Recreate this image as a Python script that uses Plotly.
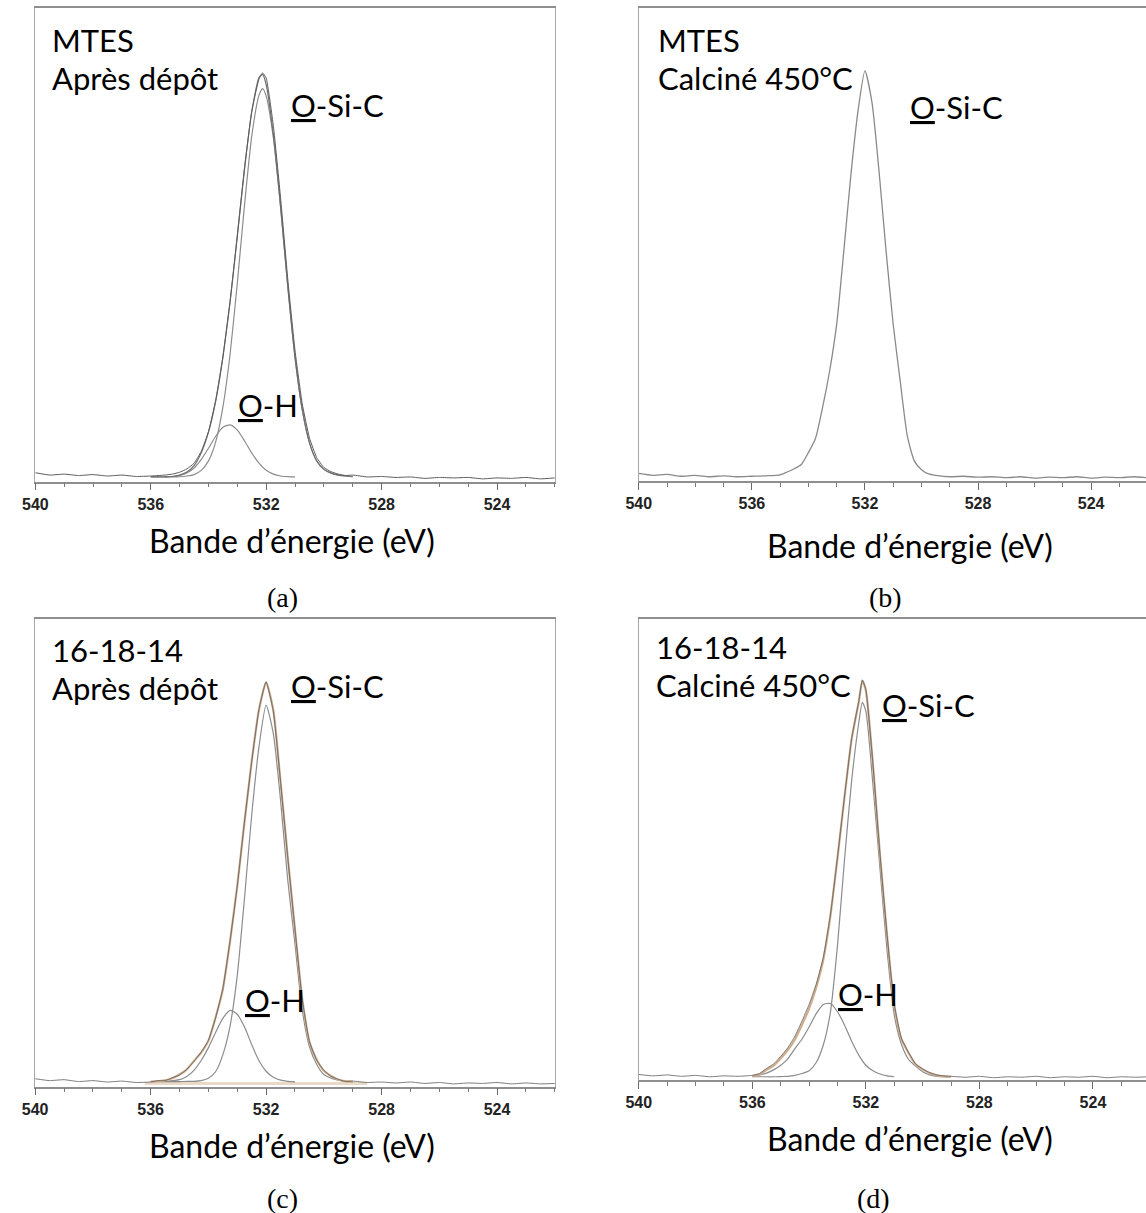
import plotly.graph_objects as go

W, H = 1146, 1213

# ---------------- data (binding energy in eV, intensity in % of frame height) -------------
A_X_FIT = [536.0, 535.75, 535.5, 535.25, 535.0, 534.75, 534.5, 534.25, 534.0, 533.75, 533.5, 533.25,
           533.0, 532.75, 532.5, 532.25, 532.125, 532.0, 531.75, 531.5, 531.25, 531.0, 530.75, 530.5,
           530.25, 530.0, 529.75, 529.5, 529.25, 529.0]
A_OSIC = [1.0, 1.0, 1.0, 1.0, 1.05, 1.2, 1.5, 2.4, 4.4, 8.4, 15.8, 27.0, 42.0, 58.5, 73.0, 81.6, 83.0,
          81.4, 72.5, 57.8, 41.0, 26.2, 15.2, 8.2, 4.4, 2.6, 1.8, 1.4, 1.2, 1.05]
A_ENV = [1.0, 1.0, 1.0, 1.1, 1.4, 2.05, 3.4, 6.1, 10.45, 17.0, 26.3, 38.0, 51.9, 66.1, 78.05, 85.3, 86.0,
         83.8, 73.1, 58.0, 41.1, 26.2, 15.2, 8.2, 4.4, 2.6, 1.8, 1.4, 1.2, 1.05]
A_X_OH = [535.5, 535.25, 535.0, 534.75, 534.5, 534.25, 534.0, 533.75, 533.5, 533.25, 533.0, 532.75,
          532.5, 532.25, 532.0, 531.75, 531.5, 531.25, 531.0]
A_OH = [1.0, 1.1, 1.35, 1.85, 2.9, 4.7, 7.05, 9.6, 11.5, 12.0, 10.9, 8.6, 6.05, 3.9, 2.4, 1.6, 1.2, 1.07, 1.0]
A_X_DATA = [540.0, 539.5, 539.0, 538.5, 538.0, 537.5, 537.0, 536.5, 536.0, 535.75, 535.5, 535.25, 535.0,
            534.75, 534.5, 534.25, 534.0, 533.75, 533.5, 533.25, 533.0, 532.75, 532.5, 532.25, 532.125,
            532.0, 531.75, 531.5, 531.25, 531.0, 530.75, 530.5, 530.25, 530.0, 529.75, 529.5, 529.25,
            529.0, 528.5, 528.0, 527.5, 527.0, 526.5, 526.0, 525.5, 525.0, 524.5, 524.0, 523.5, 523.0,
            522.5, 522.0]
A_DATA = [1.9, 1.4, 1.6, 1.3, 1.5, 1.2, 1.4, 1.1, 1.2, 1.3, 1.4, 1.6, 2.0, 2.7, 3.9, 6.4, 10.6, 17.2,
          26.4, 38.2, 52.0, 66.3, 78.3, 85.0, 86.3, 85.2, 75.0, 59.8, 42.6, 27.6, 16.4, 9.2, 5.1, 3.0,
          2.1, 1.6, 1.3, 1.4, 1.0, 1.1, 0.9, 1.0, 0.7, 0.9, 0.8, 0.9, 0.6, 0.8, 0.7, 0.9, 0.6, 0.8]

B_X = [540.0, 539.5, 539.0, 538.5, 538.0, 537.5, 537.0, 536.5, 536.0, 535.5, 535.0, 534.75, 534.5,
       534.25, 534.0, 533.75, 533.5, 533.25, 533.0, 532.75, 532.5, 532.25, 532.0, 531.75, 531.5, 531.25,
       531.0, 530.75, 530.5, 530.25, 530.0, 529.75, 529.5, 529.0, 528.5, 528.0, 527.5, 527.0, 526.5,
       526.0, 525.5, 525.0, 524.5, 524.0, 523.5, 523.0, 522.5, 522.0]
B_Y = [1.6, 1.2, 1.4, 1.0, 1.2, 0.9, 1.1, 0.9, 1.0, 1.1, 1.3, 1.9, 2.6, 3.5, 6.0, 9.0, 15.5, 23.2, 33.1,
       48.4, 64.5, 78.0, 86.7, 80.0, 65.4, 48.5, 33.1, 21.0, 9.5, 4.2, 2.4, 1.5, 1.2, 0.9, 1.0, 0.8, 0.9,
       0.7, 0.9, 0.6, 0.8, 0.7, 0.9, 0.6, 0.8, 0.7, 0.9, 0.7]

C_X_FIT = [536.0, 535.75, 535.5, 535.25, 535.0, 534.75, 534.5, 534.25, 534.0, 533.75, 533.5, 533.25,
           533.0, 532.75, 532.5, 532.25, 532.0, 531.75, 531.5, 531.25, 531.0, 530.75, 530.5, 530.25,
           530.0, 529.75, 529.5, 529.25, 529.0]
C_ENV = [1.1, 1.2, 1.35, 1.8, 2.6, 3.65, 5.5, 7.3, 9.8, 14.8, 20.8, 31.0, 42.9, 56.5, 69.5, 80.5, 86.4,
         80.5, 65.2, 49.1, 33.6, 18.9, 9.6, 5.8, 3.4, 2.3, 1.5, 1.2, 1.1]
C_OSIC = [1.1, 1.1, 1.1, 1.1, 1.1, 1.12, 1.15, 1.3, 1.8, 3.2, 6.8, 12.9, 23.7, 40.2, 58.0, 72.5, 81.6,
          75.5, 61.3, 44.2, 30.5, 16.5, 8.6, 4.8, 2.6, 1.8, 1.4, 1.2, 1.1]
C_X_OH = [535.5, 535.0, 534.75, 534.5, 534.25, 534.0, 533.75, 533.5, 533.25, 533.0, 532.75, 532.5,
          532.25, 532.0, 531.75, 531.5, 531.25, 531.0]
C_OH = [1.1, 1.5, 2.2, 3.5, 5.6, 8.3, 11.6, 14.6, 16.3, 15.5, 12.8, 9.0, 5.6, 3.3, 2.0, 1.4, 1.15, 1.05]
C_X_BG = [536.2, 528.5]
C_BG = [0.7, 0.7]
C_X_DATA = [540.0, 539.5, 539.0, 538.5, 538.0, 537.5, 537.0, 536.5, 536.0, 535.75, 535.5, 535.25, 535.0,
            534.75, 534.5, 534.25, 534.0, 533.75, 533.5, 533.25, 533.0, 532.75, 532.5, 532.25, 532.0,
            531.75, 531.5, 531.25, 531.0, 530.75, 530.5, 530.25, 530.0, 529.75, 529.5, 529.25, 529.0,
            528.5, 528.0, 527.5, 527.0, 526.5, 526.0, 525.5, 525.0, 524.5, 524.0, 523.5, 523.0, 522.5,
            522.0]
C_DATA = [1.7, 1.3, 1.5, 1.1, 1.3, 1.0, 1.2, 0.9, 1.0, 1.3, 1.3, 1.9, 2.5, 3.7, 5.4, 7.4, 9.9, 14.7,
          20.9, 31.1, 42.8, 56.6, 69.4, 80.6, 86.6, 80.3, 65.3, 49.0, 33.7, 18.8, 9.7, 5.7, 3.5, 2.2,
          1.6, 1.1, 1.2, 0.9, 1.0, 0.8, 1.0, 0.7, 0.9, 0.6, 0.8, 0.7, 0.9, 0.6, 0.8, 0.6, 0.7]

D_X_FIT = [536.0, 535.75, 535.5, 535.25, 535.0, 534.75, 534.5, 534.25, 534.0, 533.75, 533.5, 533.25,
           533.0, 532.75, 532.5, 532.25, 532.125, 532.0, 531.75, 531.5, 531.25, 531.0, 530.75, 530.5,
           530.25, 530.0, 529.75, 529.5, 529.25, 529.0]
D_ENV = [0.9, 1.2, 2.2, 3.1, 4.7, 6.5, 8.8, 12.0, 15.5, 20.1, 26.1, 35.6, 48.2, 61.5, 74.0, 82.0, 86.6,
         84.5, 68.3, 48.6, 31.1, 16.2, 8.9, 5.9, 3.4, 2.3, 1.5, 1.0, 0.8, 0.7]
D_OSIC = [0.7, 0.7, 0.7, 0.7, 0.75, 0.8, 1.0, 1.4, 2.0, 3.8, 7.6, 14.7, 29.2, 48.0, 65.0, 77.5, 81.9,
          80.0, 64.0, 45.6, 27.9, 14.1, 7.8, 4.5, 3.0, 1.8, 1.1, 0.8, 0.7, 0.7]
D_X_OH = [536.0, 535.5, 535.25, 535.0, 534.75, 534.5, 534.25, 534.0, 533.75, 533.5, 533.25, 533.0,
          532.75, 532.5, 532.25, 532.0, 531.75, 531.5, 531.25, 531.0]
D_OH = [0.7, 1.5, 2.2, 3.2, 4.6, 6.8, 8.9, 11.5, 14.4, 16.4, 16.6, 14.8, 11.9, 8.4, 5.4, 3.2, 2.0, 1.3,
        0.9, 0.7]
D_X_DATA = [540.0, 539.5, 539.0, 538.5, 538.0, 537.5, 537.0, 536.5, 536.0, 535.75, 535.5, 535.25, 535.0,
            534.75, 534.5, 534.25, 534.0, 533.75, 533.5, 533.25, 533.0, 532.75, 532.5, 532.25, 532.125,
            532.0, 531.75, 531.5, 531.25, 531.0, 530.75, 530.5, 530.25, 530.0, 529.75, 529.5, 529.25,
            529.0, 528.5, 528.0, 527.5, 527.0, 526.5, 526.0, 525.5, 525.0, 524.5, 524.0, 523.5, 523.0,
            522.5, 522.0]
D_DATA = [1.2, 0.9, 1.1, 0.8, 1.0, 0.7, 0.9, 0.8, 1.0, 1.4, 2.5, 3.5, 5.1, 7.0, 9.5, 12.8, 16.4, 20.8,
          26.6, 35.8, 48.3, 61.6, 74.1, 82.2, 86.8, 84.7, 68.5, 48.8, 31.3, 16.4, 9.1, 6.0, 3.5, 2.4,
          1.6, 1.1, 0.9, 0.8, 0.6, 0.8, 0.5, 0.7, 0.6, 0.8, 0.5, 0.7, 0.6, 0.8, 0.5, 0.7, 0.6, 0.7]

TICK_VALS = [540, 536, 532, 528, 524]
TICK_TEXT = ["540", "536", "532", "528", "524"]

# ---------------- styling ----------------
TXT_FONT = "Lato"
TXT_SIZE = 31
TITLE_SIZE = 32
COMP = "#8c8c8c"
DATA = "#5c5c5c"
ENV_GRAY = "#707070"
ENV_TAN = "#cfae8e"
BG_TAN = "#ead9c6"


def px(x):
    return x / W


def py(y):
    return 1 - y / H


# panel frames in pixels: (left, right, top, bottom, x range end)
PANELS = {
    "a": (22.6, 548.0, 8.0, 481.7, 522.0),
    "b": (632.9, 1146.0, 8.0, 481.0, 522.06),
    "c": (22.4, 548.0, 619.0, 1086.7, 522.0),
    "d": (633.0, 1146.0, 619.0, 1080.0, 522.13),
}
AX = {"a": ("x", "y"), "b": ("x2", "y2"), "c": ("x3", "y3"), "d": ("x4", "y4")}

fig = go.Figure()


def line(panel, xs, ys, color, width=1.2, smooth=0.6):
    xa, ya = AX[panel]
    fig.add_trace(go.Scatter(x=xs, y=ys, mode="lines", xaxis=xa, yaxis=ya,
                             line=dict(color=color, width=width, shape="spline", smoothing=smooth),
                             showlegend=False, hoverinfo="skip"))


# (a)
line("a", A_X_OH, A_OH, COMP)
line("a", A_X_FIT, A_OSIC, COMP)
line("a", A_X_FIT, A_ENV, ENV_GRAY)
line("a", A_X_DATA, A_DATA, DATA, 1.0, 0.4)
# (b)
line("b", B_X, B_Y, "#8a8a8a", 1.3, 0.6)
# (c)
xa, ya = AX["c"]
fig.add_trace(go.Scatter(x=C_X_BG, y=C_BG, mode="lines", xaxis=xa, yaxis=ya,
                         line=dict(color=BG_TAN, width=3), showlegend=False, hoverinfo="skip"))
line("c", C_X_OH, C_OH, COMP)
line("c", C_X_FIT, C_OSIC, COMP)
line("c", C_X_FIT, C_ENV, ENV_TAN, 2.2)
line("c", C_X_DATA, C_DATA, DATA, 0.8, 0.4)
# (d)
line("d", D_X_OH, D_OH, COMP)
line("d", D_X_FIT, D_OSIC, COMP)
line("d", D_X_FIT, D_ENV, ENV_TAN, 2.2)
line("d", D_X_DATA, D_DATA, DATA, 0.8, 0.4)

layout = dict(width=W, height=H, margin=dict(l=0, r=0, t=0, b=0),
              paper_bgcolor="white", plot_bgcolor="white", showlegend=False)

for i, key in enumerate(["a", "b", "c", "d"]):
    l, r, t, b, xend = PANELS[key]
    sfx = "" if i == 0 else str(i + 1)
    layout["xaxis" + sfx] = dict(
        domain=[px(l), px(r)], range=[540, xend], anchor="y" + sfx,
        tickmode="array", tickvals=TICK_VALS, ticktext=TICK_TEXT,
        ticks="outside", ticklen=7, tickwidth=1, tickcolor="#6a6a6a",
        minor=dict(tickmode="linear", tick0=540, dtick=1, ticks="outside", ticklen=4,
                   tickwidth=1, tickcolor="#7a7a7a", showgrid=False),
        showline=True, linecolor="#8e8e8e", linewidth=1.5, mirror=True,
        showgrid=False, zeroline=False,
        tickfont=dict(family="Liberation Sans", size=16, color="#222222", weight="bold"),
    )
    layout["yaxis" + sfx] = dict(
        domain=[py(b), py(t)], range=[0, 100], anchor="x" + sfx,
        showticklabels=False, ticks="", showline=True, linecolor="#a8a8a8", linewidth=1.3,
        mirror=(key in ("a", "c")), showgrid=False, zeroline=False,
    )

fig.update_layout(**layout)


def ann(text, x, y, anchor="left", size=TXT_SIZE, family=TXT_FONT):
    fig.add_annotation(text=text, x=px(x), y=py(y), xref="paper", yref="paper",
                       xanchor=anchor, yanchor="middle", showarrow=False,
                       font=dict(family=family, size=size, color="black"))


# (a)
ann("MTES", 37, 40)
ann("Après dépôt", 37, 78)
ann("<u>O</u>-Si-C", 279, 105)
ann("<u>O</u>-H", 226, 405)
ann("Bande d’énergie (eV)", 282, 540, "center", TITLE_SIZE)
ann("(a)", 273, 597, "center", 28, "Liberation Serif")
# (b)
ann("MTES", 650, 40)
ann("Calciné 450°C", 650, 78)
ann("<u>O</u>-Si-C", 905, 107)
ann("Bande d’énergie (eV)", 907, 545, "center", TITLE_SIZE)
ann("(b)", 883, 597, "center", 28, "Liberation Serif")
# (c)
ann("16-18-14", 37, 650)
ann("Après dépôt", 37, 688)
ann("<u>O</u>-Si-C", 279, 686)
ann("<u>O</u>-H", 233, 1000)
ann("Bande d’énergie (eV)", 282, 1145, "center", TITLE_SIZE)
ann("(c)", 273, 1198, "center", 28, "Liberation Serif")
# (d)
ann("16-18-14", 648, 647)
ann("Calciné 450°C", 648, 685)
ann("<u>O</u>-Si-C", 877, 705)
ann("<u>O</u>-H", 832, 994)
ann("Bande d’énergie (eV)", 907, 1138, "center", TITLE_SIZE)
ann("(d)", 870, 1198, "center", 28, "Liberation Serif")

fig.write_html("out.html", config={"displayModeBar": False},
               post_script="document.body.style.margin='0px';document.body.style.overflow='hidden';")
